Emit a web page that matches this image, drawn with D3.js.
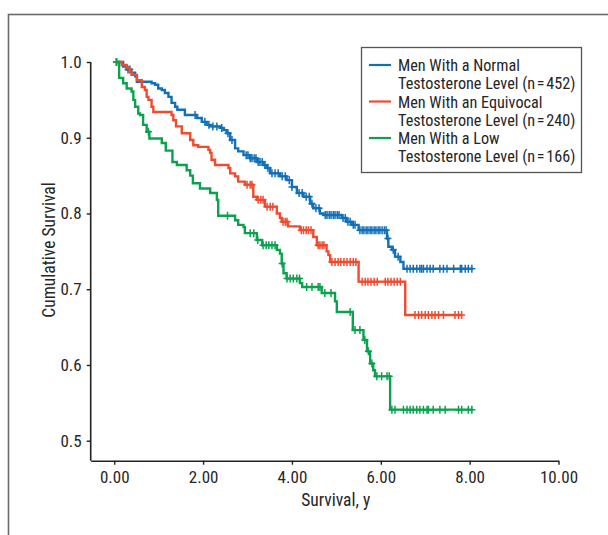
<!DOCTYPE html>
<html>
<head>
<meta charset="utf-8">
<script src="https://cdn.jsdelivr.net/npm/d3@7"></script>
<style>
  html, body { margin: 0; padding: 0; background: #fff; overflow: hidden; }
  svg text { font-family: "Liberation Sans Narrow", "Arial Narrow", "Roboto Condensed", sans-serif; fill: #262626; }
</style>
</head>
<body>
<svg class="kmplot" width="608" height="535"></svg>
<script>
// survival times (years) where each curve steps down, and the level after the step
var normalTimes = [0.05, 0.20, 0.28, 0.38, 0.47, 0.51, 0.84, 0.92, 0.99, 1.07, 1.14, 1.22, 1.29, 1.37, 1.42, 1.59, 1.86, 1.97, 2.08, 2.16, 2.38, 2.46, 2.53, 2.61, 2.72, 2.79, 2.91, 3.06, 3.21, 3.36, 3.43, 3.51, 3.73, 3.88, 4.00, 4.11, 4.26, 4.41, 4.48, 4.63, 4.71, 5.12, 5.23, 5.35, 5.50, 6.14, 6.17, 6.25, 6.32, 6.44, 6.51];
var normalSurv = [1.000, 0.994, 0.990, 0.986, 0.981, 0.974, 0.972, 0.970, 0.965, 0.963, 0.959, 0.954, 0.946, 0.941, 0.937, 0.930, 0.926, 0.921, 0.917, 0.915, 0.913, 0.910, 0.906, 0.897, 0.886, 0.882, 0.877, 0.873, 0.868, 0.864, 0.860, 0.853, 0.849, 0.844, 0.835, 0.827, 0.822, 0.813, 0.807, 0.800, 0.798, 0.794, 0.789, 0.785, 0.778, 0.767, 0.756, 0.752, 0.743, 0.736, 0.727];
var normalEnd = 8.07;
var normalCensored = [0.05, 0.31, 0.35, 1.82, 2.04, 2.13, 2.22, 2.31, 2.42, 2.56, 2.65, 2.97, 3.01, 3.06, 3.10, 3.15, 3.19, 3.24, 3.28, 3.33, 3.39, 3.46, 3.55, 3.62, 3.69, 3.78, 3.85, 3.94, 4.00, 4.16, 4.23, 4.32, 4.39, 4.45, 4.54, 4.61, 4.75, 4.79, 4.84, 4.88, 4.93, 4.97, 5.02, 5.06, 5.15, 5.20, 5.26, 5.31, 5.38, 5.42, 5.53, 5.58, 5.62, 5.67, 5.71, 5.76, 5.80, 5.85, 5.89, 5.94, 5.98, 6.03, 6.08, 6.12, 6.16, 6.28, 6.39, 6.59, 6.66, 6.73, 6.81, 6.88, 6.92, 6.96, 7.04, 7.11, 7.18, 7.33, 7.41, 7.49, 7.64, 7.79, 7.82, 7.90, 7.97, 8.05];

var equivocalTimes = [0.05, 0.17, 0.28, 0.35, 0.39, 0.51, 0.62, 0.69, 0.73, 0.77, 0.84, 0.88, 1.29, 1.33, 1.39, 1.52, 1.71, 1.78, 1.89, 2.12, 2.16, 2.19, 2.27, 2.57, 2.61, 2.72, 2.79, 2.94, 3.13, 3.21, 3.39, 3.66, 3.73, 3.77, 3.91, 4.18, 4.48, 4.56, 4.78, 4.82, 4.86, 5.50, 6.55];
var equivocalSurv = [1.000, 0.996, 0.992, 0.987, 0.983, 0.976, 0.967, 0.963, 0.954, 0.950, 0.941, 0.934, 0.930, 0.923, 0.915, 0.906, 0.897, 0.890, 0.888, 0.884, 0.880, 0.871, 0.864, 0.860, 0.853, 0.849, 0.842, 0.838, 0.822, 0.818, 0.809, 0.800, 0.794, 0.789, 0.783, 0.778, 0.769, 0.758, 0.750, 0.745, 0.736, 0.710, 0.666];
var equivocalEnd = 7.82;
var equivocalCensored = [0.05, 2.99, 3.06, 3.10, 3.24, 3.30, 3.35, 3.44, 3.51, 3.57, 3.80, 3.85, 3.89, 4.21, 4.26, 4.32, 4.37, 4.43, 4.59, 4.63, 4.68, 4.72, 4.90, 4.97, 5.04, 5.10, 5.17, 5.24, 5.31, 5.38, 5.44, 5.58, 5.65, 5.71, 5.78, 5.85, 5.92, 6.10, 6.16, 6.23, 6.30, 6.37, 6.44, 6.77, 6.85, 6.92, 7.00, 7.07, 7.15, 7.22, 7.30, 7.41, 7.67, 7.75, 7.82];

var lowTimes = [0.05, 0.11, 0.20, 0.28, 0.39, 0.43, 0.47, 0.54, 0.58, 0.65, 0.73, 0.79, 1.07, 1.16, 1.31, 1.41, 1.63, 1.71, 1.77, 1.93, 2.16, 2.31, 2.34, 2.72, 2.79, 2.91, 2.94, 3.21, 3.33, 3.66, 3.73, 3.77, 3.81, 3.88, 4.18, 4.23, 4.67, 4.97, 5.01, 5.37, 5.61, 5.69, 5.76, 5.83, 5.87, 6.21];
var lowSurv = [1.000, 0.979, 0.972, 0.965, 0.961, 0.950, 0.941, 0.932, 0.930, 0.917, 0.908, 0.899, 0.893, 0.883, 0.868, 0.864, 0.857, 0.850, 0.840, 0.833, 0.827, 0.818, 0.797, 0.791, 0.785, 0.782, 0.774, 0.765, 0.758, 0.752, 0.747, 0.734, 0.721, 0.714, 0.708, 0.703, 0.695, 0.684, 0.670, 0.646, 0.633, 0.618, 0.602, 0.593, 0.585, 0.541];
var lowEnd = 8.07;
var lowCensored = [0.05, 0.77, 2.55, 3.06, 3.14, 3.23, 3.35, 3.42, 3.48, 3.55, 3.62, 3.78, 3.89, 3.96, 4.03, 4.11, 4.17, 4.33, 4.45, 4.59, 4.63, 4.74, 4.88, 5.31, 5.42, 5.53, 5.64, 5.72, 5.80, 5.91, 6.02, 6.14, 6.19, 6.25, 6.32, 6.51, 6.59, 6.66, 6.73, 6.81, 6.88, 6.96, 7.04, 7.07, 7.18, 7.33, 7.45, 7.75, 7.82, 7.97, 8.05];

var legendLabels = [
    ["Men With a Normal", "Testosterone Level (n\u200A=\u200A452)"],
    ["Men With an Equivocal", "Testosterone Level (n\u200A=\u200A240)"],
    ["Men With a Low", "Testosterone Level (n\u200A=\u200A166)"]
];
var xTicks = [0, 2, 4, 6, 8, 10];
var yTicks = [0.5, 0.6, 0.7, 0.8, 0.9, 1.0];

(function kmPlotIIFE() {
    var svg = d3.select("svg.kmplot");
    var colours = ["#1170b8", "#ef4b2f", "#0ba24e"];

    var series = [
        {times: normalTimes, surv: normalSurv, end: normalEnd, censored: normalCensored},
        {times: equivocalTimes, surv: equivocalSurv, end: equivocalEnd, censored: equivocalCensored},
        {times: lowTimes, surv: lowSurv, end: lowEnd, censored: lowCensored}
    ];

    var x = d3.scaleLinear().domain([-0.53, 10]).range([90.7, 558.5]);
    var y = d3.scaleLinear().domain([0.4736, 1.0]).range([460.7, 62]);

    // outer frame, runs off the right and bottom edge like the figure panel
    svg.append("rect")
        .attr("x", 8.5).attr("y", 14.5)
        .attr("width", 800).attr("height", 800)
        .attr("fill", "none")
        .attr("stroke", "#6a6a6a")
        .attr("stroke-width", 1.6);

    var xAxis = svg.append("g")
        .attr("transform", "translate(0," + y.range()[0] + ")")
        .call(d3.axisBottom(x).tickValues(xTicks).tickFormat(d3.format(".2f"))
            .tickSize(4).tickSizeOuter(0).tickPadding(6));
    var yAxis = svg.append("g")
        .attr("transform", "translate(" + x.range()[0] + ",0)")
        .call(d3.axisLeft(y).tickValues(yTicks).tickFormat(d3.format(".1f"))
            .tickSize(4).tickSizeOuter(0).tickPadding(5));

    // y domain line only spans from 1.0 down to the x axis
    yAxis.select(".domain").attr("d", "M0," + y(1.0) + "V" + y.range()[0]);

    [xAxis, yAxis].forEach(function(ax) {
        ax.select(".domain").attr("stroke", "#222").attr("stroke-width", 1.6);
        ax.selectAll(".tick line").attr("stroke", "#222").attr("stroke-width", 1.4);
        ax.selectAll(".tick text")
            .attr("fill", "#262626")
            .style("font-size", "17px")
            .style("font-family", null);
    });

    svg.append("text")
        .attr("x", 335.7).attr("y", 506)
        .attr("text-anchor", "middle")
        .style("font-size", "17.5px")
        .text("Survival, y");

    svg.append("text")
        .attr("transform", "translate(55,250) rotate(-90)")
        .attr("text-anchor", "middle")
        .style("font-size", "17.5px")
        .text("Cumulative Survival");

    var line = d3.line()
        .curve(d3.curveStepAfter)
        .x(function(d) { return x(d[0]); })
        .y(function(d) { return y(d[1]); });

    function survivalAt(s, t) {
        var i = d3.bisectRight(s.times, t) - 1;
        return s.surv[Math.max(i, 0)];
    }

    series.forEach(function(s, i) {
        var pts = s.times.map(function(t, k) { return [t, s.surv[k]]; });
        pts.push([s.end, s.surv[s.surv.length - 1]]);

        svg.append("path")
            .datum(pts)
            .attr("fill", "none")
            .attr("stroke", colours[i])
            .attr("stroke-width", 2.4)
            .attr("d", line);

        svg.append("g").selectAll("path")
            .data(s.censored)
            .enter().append("path")
            .attr("transform", function(t) {
                return "translate(" + x(t) + "," + y(survivalAt(s, t)) + ")";
            })
            .attr("d", "M0,-4V4M-3.5,0H3.5")
            .attr("stroke", colours[i])
            .attr("stroke-width", 1.5)
            .attr("fill", "none");
    });

    // legend
    var legend = svg.append("g");
    legend.append("rect")
        .attr("x", 361.5).attr("y", 47.5)
        .attr("width", 220).attr("height", 125)
        .attr("fill", "#fff")
        .attr("stroke", "#555")
        .attr("stroke-width", 1.3);

    legendLabels.forEach(function(lines, i) {
        var cy = 65 + i * 36.5;
        legend.append("line")
            .attr("x1", 369).attr("x2", 391)
            .attr("y1", cy).attr("y2", cy)
            .attr("stroke", colours[i])
            .attr("stroke-width", 2.2);
        lines.forEach(function(txt, j) {
            legend.append("text")
                .attr("x", 398)
                .attr("y", cy + j * 18 + 6)
                .style("font-size", "16.2px")
                .text(txt);
        });
    });
})();
</script>
</body>
</html>
